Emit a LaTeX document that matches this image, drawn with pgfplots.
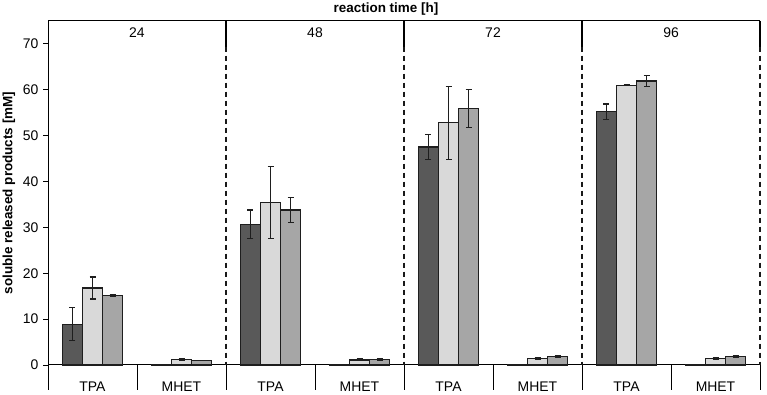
\documentclass[border=0pt]{standalone}
\usepackage{fontspec}
\setmainfont{Liberation Sans}
\usepackage{pgfplots}
\pgfplotsset{compat=1.18}
\definecolor{cdark}{HTML}{595959}
\definecolor{clight}{HTML}{D9D9D9}
\definecolor{cmid}{HTML}{A6A6A6}
\definecolor{cedge}{HTML}{1E1E1E}
\begin{document}
\begin{tikzpicture}
\begin{axis}[
 scale only axis, width=712bp, height=344bp,
 xmin=-0.5, xmax=7.5, ymin=0, ymax=75,
 axis x line=bottom, axis y line=left,
 axis line style={-, line width=1bp, black},
 every outer x axis line/.append style={-},
 every outer y axis line/.append style={-},
 clip=false,
 ytick={0,10,...,70},
 xtick={0,...,7}, xticklabels={TPA,MHET,TPA,MHET,TPA,MHET,TPA,MHET},
 x tick style={draw=none},
 y tick style={line width=0.9bp, black},
 tick align=outside, major tick length=5bp,
 ticklabel style={font=\fontsize{14}{16}\selectfont},
 yticklabel style={xshift=-1bp},
 xticklabel style={anchor=center, yshift=-17bp},
 /pgf/number format/assume math mode=true,
 ybar, bar width=0.225,
 every axis plot/.append style={draw=cedge, line width=1.3bp,
   /pgfplots/error bars/y dir=both, /pgfplots/error bars/y explicit,
   /pgfplots/error bars/error mark=-,
   /pgfplots/error bars/error bar style={line width=1.2bp, draw=cedge, solid},
   /pgfplots/error bars/error mark options={rotate=90, line width=1.2bp, mark size=3bp, draw=cedge, solid}},
]
\addplot[fill=cdark, bar shift=-0.225] coordinates {
 (0,8.9) +- (0,3.6) (1,0.1) +- (0,0.05)
 (2,30.7) +- (0,3.1) (3,0.1) +- (0,0.05)
 (4,47.5) +- (0,2.7) (5,0.1) +- (0,0.05)
 (6,55.2) +- (0,1.7) (7,0.1) +- (0,0.05)};
\addplot[fill=clight, bar shift=0] coordinates {
 (0,16.8) +- (0,2.4) (1,1.2) +- (0,0.2)
 (2,35.4) +- (0,7.9) (3,1.1) +- (0,0.2)
 (4,52.8) +- (0,8.0) (5,1.4) +- (0,0.2)
 (6,61.0) +- (0,0.15) (7,1.4) +- (0,0.15)};
\addplot[fill=cmid, bar shift=0.225] coordinates {
 (0,15.2) +- (0,0.15) (1,1.0) +- (0,0.05)
 (2,33.8) +- (0,2.8) (3,1.2) +- (0,0.1)
 (4,55.9) +- (0,4.2) (5,1.9) +- (0,0.2)
 (6,61.9) +- (0,1.2) (7,1.8) +- (0,0.2)};
\coordinate (BL) at (rel axis cs:0,0);
\coordinate (TR) at (rel axis cs:1,1);
\draw[line width=1bp] (rel axis cs:0,1) -- (rel axis cs:1,1);
\pgfplotsinvokeforeach{1.5,3.5,5.5,7.5}{
 \draw[line width=1.1bp, black] (axis cs:#1,75) -- (axis cs:#1,69.4);
 \draw[line width=1.3bp, black!90, dash pattern=on 5bp off 4bp] (axis cs:#1,69.4) -- (axis cs:#1,0);
}
\pgfplotsinvokeforeach{-0.5,0.5,1.5,2.5,3.5,4.5,5.5,6.5,7.5}{
 \draw[line width=1bp] (axis cs:#1,0) -- ([yshift=-25bp]axis cs:#1,0);
}
\node[font=\fontsize{14}{16}\selectfont, yshift=-12bp] at (axis cs:0.5,75) {24};
\node[font=\fontsize{14}{16}\selectfont, yshift=-12bp] at (axis cs:2.5,75) {48};
\node[font=\fontsize{14}{16}\selectfont, yshift=-12bp] at (axis cs:4.5,75) {72};
\node[font=\fontsize{14}{16}\selectfont, yshift=-12bp] at (axis cs:6.5,75) {96};
\node[font=\bfseries\fontsize{13.5}{15}\selectfont, yshift=12bp, xshift=-18bp] at (rel axis cs:0.5,1) {reaction time [h]};
\node[font=\bfseries\fontsize{13.5}{15}\selectfont, rotate=90] at ([xshift=-39bp]rel axis cs:0,0.5) {soluble released products [mM]};
\end{axis}
\pgfresetboundingbox
\path ([shift={(-48bp,-30bp)}]BL) rectangle ([shift={(7bp,21bp)}]TR);
\end{tikzpicture}
\end{document}
